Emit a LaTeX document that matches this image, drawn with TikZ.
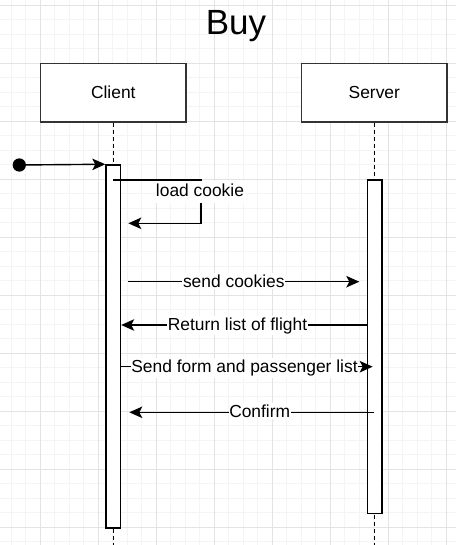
\documentclass[tikz,border=0pt]{standalone}
\usepackage{fontspec}
\setmainfont{Liberation Sans}
\usetikzlibrary{arrows.meta}
\definecolor{gridminor}{HTML}{F4F4F4}
\definecolor{gridmajor}{HTML}{E3E3E3}
\definecolor{boxborder}{HTML}{333333}
\begin{document}
\begin{tikzpicture}[x=1pt,y=-1pt,
  actor/.style={draw=boxborder,line width=1.6pt,fill=white,minimum width=145.5pt,minimum height=58.5pt,inner sep=0pt,font=\fontsize{17.4}{20}\selectfont},
  actbar/.style={draw=black,line width=1.5pt,fill=white,minimum width=14.5pt,inner sep=0pt},
  lifeline/.style={draw=black,line width=1.4pt,dash pattern=on 4pt off 3pt},
  msg/.style={draw=black,line width=1.4pt,-{Stealth[length=13pt,width=11.5pt,inset=3pt]}},
  msglabel/.style={fill=white,inner xsep=0.6pt,inner ysep=1.5pt,font=\fontsize{17.4}{20}\selectfont,anchor=base}
]
\useasboundingbox (0,0) rectangle (456,545);
\fill[white] (0,0) rectangle (456,545);
% grid
\foreach \i in {-2,...,28} \draw[gridminor,line width=0.8pt] ({40.3+14.5*\i},0) -- ({40.3+14.5*\i},545);
\foreach \i in {0,...,37} \draw[gridminor,line width=0.8pt] (0,{5.3+14.5*\i}) -- (456,{5.3+14.5*\i});
\foreach \i in {0,...,7} \draw[gridmajor,line width=0.8pt] ({40.3+58*\i},0) -- ({40.3+58*\i},545);
\foreach \i in {0,...,9} \draw[gridmajor,line width=0.8pt] (0,{5.3+58*\i}) -- (456,{5.3+58*\i});

% title
\node[anchor=base,inner sep=0pt,font=\fontsize{35}{40}\selectfont] (title) at (236,35) {Buy};

% actors
\node[actor] (client) at (113.3,92.6) {Client};
\node[actor] (server) at (374.3,92.6) {Server};
\coordinate (cend) at (113.3,545);
\coordinate (send) at (374.3,545);
\draw[lifeline] (client.south) -- (cend);
\draw[lifeline] (server.south) -- (send);

% activation bars
\node[actbar,minimum height=363pt] (cbar) at (113.3,346.5) {};
\node[actbar,minimum height=333.7pt] (sbar) at (374.6,346.85) {};

% start
\node[circle,fill=black,minimum size=13.3pt,inner sep=0pt] (start) at (19.3,165) {};
\draw[msg] (start.center) -- (cbar.north west);

% load cookie (self message)
\coordinate (lc0) at (113.3,180);
\coordinate (lc1) at (201,180);
\coordinate (lc2) at (201,223.3);
\coordinate (lc3) at (128.3,223.3);
\draw[msg] (lc0) -- (lc1) -- (lc2) -- (lc3);
\node[msglabel,text height=13pt,text depth=4pt,inner ysep=2.5pt] (lcl) at (200,196.5) {load cookie};

% send cookies
\coordinate (m1a) at (128.3,281.7);
\coordinate (m1b) at (359.3,281.7);
\draw[msg] (m1a) -- (m1b);
\node[msglabel] (m1l) at (233.8,287.3) {send cookies};

% return list of flight
\coordinate (m2a) at (367.3,325);
\coordinate (m2b) at (121.2,325);
\draw[msg] (m2a) -- (m2b);
\node[msglabel] (m2l) at (237.5,330.2) {Return list of flight};

% send form
\coordinate (m3a) at (120,366.7);
\coordinate (m3b) at (372.7,366.7);
\draw[msg] (m3a) -- (m3b);
\node[msglabel] (m3l) at (244.5,372.6) {Send form and passenger list};

% confirm
\coordinate (m4a) at (374.3,412.3);
\coordinate (m4b) at (129.3,412.3);
\draw[msg] (m4a) -- (m4b);
\node[msglabel] (m4l) at (259.7,417.6) {Confirm};
\end{tikzpicture}
\end{document}
